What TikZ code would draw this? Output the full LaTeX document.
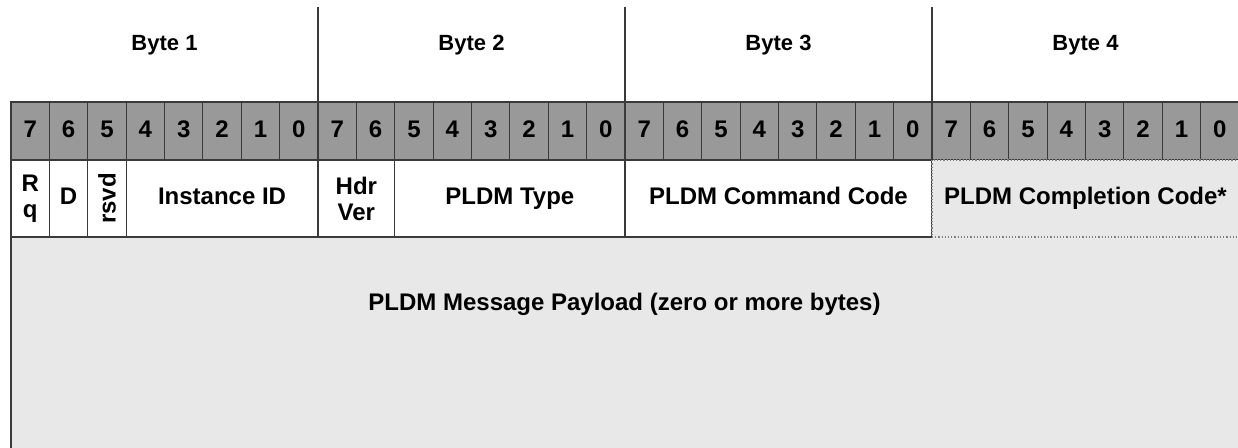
\documentclass[tikz,border=0pt]{standalone}
\usepackage{fontspec}
\usepackage{graphicx}
\setmainfont{Liberation Sans}
\usetikzlibrary{positioning}
\definecolor{bitgray}{HTML}{999999}
\definecolor{paygray}{HTML}{E8E8E8}
\definecolor{rulegray}{HTML}{3A3A3A}
\tikzset{
  bitcell/.style={draw=rulegray, fill=bitgray, line width=0.6pt, minimum width=19.1875pt,
    minimum height=29pt, inner sep=0pt, outer sep=0pt, anchor=north west},
  field/.style={draw=rulegray, fill=white, line width=0.6pt, minimum height=38.5pt,
    inner sep=0pt, outer sep=0pt, align=center, anchor=north west},
  oneline/.style={text height=8.6pt, text depth=2.5pt},
  bytelabel/.style={oneline, font=\fontsize{11}{13}\selectfont\bfseries},
}

\begin{document}
\begin{tikzpicture}[x=0.5pt,y=-0.5pt,font=\fontsize{12}{13}\selectfont\bfseries]
        \useasboundingbox (0,0) rectangle (1238,447);
        \clip (0,0) rectangle (1238,447);

        \node[fill=paygray, minimum width=700pt, minimum height=150pt, inner sep=0pt, outer sep=0pt, anchor=north west] (payload) at (11,237) {};
        \draw[rulegray, line width=0.6pt] (payload.north west) -- (payload.south west);
        \node[oneline] (paytext) at (624.5,304) {PLDM Message Payload (zero or more bytes)};

        \foreach \b in {0,...,31}{
                \pgfmathtruncatemacro{\d}{7-mod(\b,8)}
                \node[bitcell, oneline] (bit\b) at ({11+38.375*\b},102) {\d};
        }

        \foreach \k in {1,...,4}
                \node[bytelabel] (byte\k) at ({11+307*(\k-0.5)},44) {Byte \k};
        \foreach \b in {8,16,24}
                \draw[rulegray, line width=0.6pt] (bit\b.north west) -- ++(0,-95);

        \node[field, minimum width=19.1875pt] (rq) at (bit0.south west) {R\\q};
        \node[field, oneline, minimum width=19.1875pt] (dbit) at (bit1.south west) {D};
        \node[field, minimum width=19.1875pt] (rsvd) at (bit2.south west) {\rotatebox{90}{rsvd}};
        \node[field, oneline, minimum width=5*19.1875pt] (instid) at (bit3.south west) {Instance ID};
        \node[field, minimum width=2*19.1875pt] (hdrver) at (bit8.south west) {Hdr\\Ver};
        \node[field, oneline, minimum width=6*19.1875pt] (pldmtype) at (bit10.south west) {PLDM Type};
        \node[field, oneline, minimum width=8*19.1875pt] (cmdcode) at (bit16.south west) {PLDM Command Code};
        \node[field, oneline, fill=paygray, draw=gray, densely dotted, minimum width=8*19.1875pt] (compcode) at (bit24.south west) {PLDM Completion Code*};
\end{tikzpicture}
\end{document}
